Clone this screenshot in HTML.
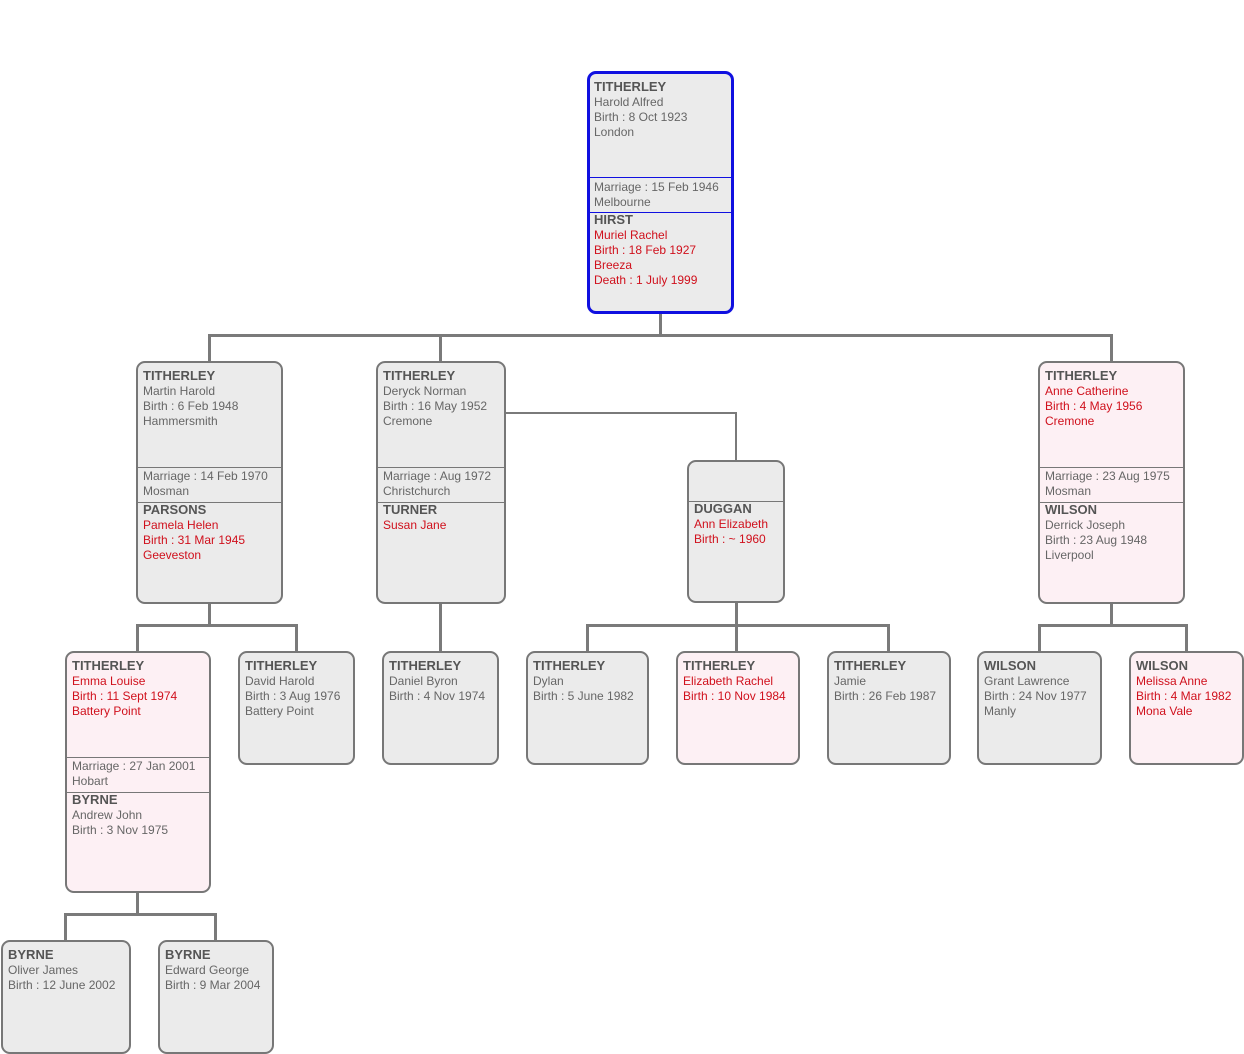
<!DOCTYPE html>
<html><head><style>
body{margin:0;width:1244px;height:1054px;background:#fff;position:relative;overflow:hidden;font-family:"Liberation Sans",Arial,sans-serif;}
.b{position:absolute;box-sizing:border-box;border:2px solid #777;border-radius:9px;background:#ebebeb;}
.p{background:#fdf0f4;}
.r{border:3px solid #1010e0;}
.s{padding:5px 0 0 5px;font-size:12px;line-height:15px;color:#666;white-space:nowrap;}
.s b{font-size:13px;color:#555;display:block;line-height:16px;}
.red{color:#d0101c;}
.d{position:absolute;left:0;right:0;border-top:1px solid #777;}
.r .d{border-top:1px solid #1010e0;}
.l{position:absolute;background:#7a7a7a;}
</style></head><body>
<div class="l" style="left:659px;top:313px;width:3px;height:23px"></div>
<div class="l" style="left:208px;top:334px;width:905px;height:3px"></div>
<div class="l" style="left:208px;top:334px;width:3px;height:28px"></div>
<div class="l" style="left:439px;top:334px;width:3px;height:28px"></div>
<div class="l" style="left:1110px;top:334px;width:3px;height:28px"></div>
<div class="l" style="left:505px;top:412px;width:232px;height:2px"></div>
<div class="l" style="left:735px;top:412px;width:2px;height:49px"></div>
<div class="l" style="left:208px;top:602px;width:3px;height:24px"></div>
<div class="l" style="left:136px;top:624px;width:162px;height:3px"></div>
<div class="l" style="left:136px;top:624px;width:3px;height:28px"></div>
<div class="l" style="left:295px;top:624px;width:3px;height:28px"></div>
<div class="l" style="left:439px;top:602px;width:3px;height:50px"></div>
<div class="l" style="left:735px;top:601px;width:3px;height:25px"></div>
<div class="l" style="left:586px;top:624px;width:304px;height:3px"></div>
<div class="l" style="left:586px;top:624px;width:3px;height:28px"></div>
<div class="l" style="left:735px;top:624px;width:3px;height:28px"></div>
<div class="l" style="left:887px;top:624px;width:3px;height:28px"></div>
<div class="l" style="left:1110px;top:602px;width:3px;height:24px"></div>
<div class="l" style="left:1038px;top:624px;width:150px;height:3px"></div>
<div class="l" style="left:1038px;top:624px;width:3px;height:28px"></div>
<div class="l" style="left:1185px;top:624px;width:3px;height:28px"></div>
<div class="l" style="left:136px;top:891px;width:3px;height:25px"></div>
<div class="l" style="left:64px;top:913px;width:153px;height:3px"></div>
<div class="l" style="left:64px;top:913px;width:3px;height:28px"></div>
<div class="l" style="left:214px;top:913px;width:3px;height:28px"></div>

<div class="b r" style="left:587px;top:71px;width:147px;height:243px">
<div class="s" style="padding-left:4px;padding-top:5px"><b>TITHERLEY</b>Harold Alfred<br>Birth : 8 Oct 1923<br>London</div>
<div class="d" style="top:103px"></div>
<div class="s" style="position:absolute;top:103px;padding-left:4px;padding-top:3px">Marriage : 15 Feb 1946<br>Melbourne</div>
<div class="d" style="top:138px"></div>
<div class="s" style="position:absolute;top:138px;padding-left:4px;padding-top:0px"><b>HIRST</b><span class="red">Muriel Rachel<br>Birth : 18 Feb 1927<br>Breeza<br>Death : 1 July 1999</span></div>
</div>

<div class="b" style="left:136px;top:361px;width:147px;height:243px">
<div class="s"><b>TITHERLEY</b>Martin Harold<br>Birth : 6 Feb 1948<br>Hammersmith</div>
<div class="d" style="top:104px"></div>
<div class="s" style="position:absolute;top:104px;padding-top:2px">Marriage : 14 Feb 1970<br>Mosman</div>
<div class="d" style="top:139px"></div>
<div class="s" style="position:absolute;top:139px;padding-top:0px"><b>PARSONS</b><span class="red">Pamela Helen<br>Birth : 31 Mar 1945<br>Geeveston</span></div>
</div>
<div class="b" style="left:376px;top:361px;width:130px;height:243px">
<div class="s"><b>TITHERLEY</b>Deryck Norman<br>Birth : 16 May 1952<br>Cremone</div>
<div class="d" style="top:104px"></div>
<div class="s" style="position:absolute;top:104px;padding-top:2px">Marriage : Aug 1972<br>Christchurch</div>
<div class="d" style="top:139px"></div>
<div class="s" style="position:absolute;top:139px;padding-top:0px"><b>TURNER</b><span class="red">Susan Jane</span></div>
</div>
<div class="b" style="left:687px;top:460px;width:98px;height:143px">
<div class="d" style="top:39px"></div>
<div class="s" style="position:absolute;top:39px;padding-top:0px"><b>DUGGAN</b><span class="red">Ann Elizabeth<br>Birth : ~ 1960</span></div>
</div>
<div class="b p" style="left:1038px;top:361px;width:147px;height:243px">
<div class="s"><b>TITHERLEY</b><span class="red">Anne Catherine<br>Birth : 4 May 1956<br>Cremone</span></div>
<div class="d" style="top:104px"></div>
<div class="s" style="position:absolute;top:104px;padding-top:2px">Marriage : 23 Aug 1975<br>Mosman</div>
<div class="d" style="top:139px"></div>
<div class="s" style="position:absolute;top:139px;padding-top:0px"><b>WILSON</b>Derrick Joseph<br>Birth : 23 Aug 1948<br>Liverpool</div>
</div>

<div class="b p" style="left:65px;top:651px;width:146px;height:242px">
<div class="s"><b>TITHERLEY</b><span class="red">Emma Louise<br>Birth : 11 Sept 1974<br>Battery Point</span></div>
<div class="d" style="top:104px"></div>
<div class="s" style="position:absolute;top:104px;padding-top:2px">Marriage : 27 Jan 2001<br>Hobart</div>
<div class="d" style="top:139px"></div>
<div class="s" style="position:absolute;top:139px;padding-top:0px"><b>BYRNE</b>Andrew John<br>Birth : 3 Nov 1975</div>
</div>
<div class="b" style="left:238px;top:651px;width:117px;height:114px"><div class="s"><b>TITHERLEY</b>David Harold<br>Birth : 3 Aug 1976<br>Battery Point</div></div>
<div class="b" style="left:382px;top:651px;width:117px;height:114px"><div class="s"><b>TITHERLEY</b>Daniel Byron<br>Birth : 4 Nov 1974</div></div>
<div class="b" style="left:526px;top:651px;width:123px;height:114px"><div class="s"><b>TITHERLEY</b>Dylan<br>Birth : 5 June 1982</div></div>
<div class="b p" style="left:676px;top:651px;width:124px;height:114px"><div class="s"><b>TITHERLEY</b><span class="red">Elizabeth Rachel<br>Birth : 10 Nov 1984</span></div></div>
<div class="b" style="left:827px;top:651px;width:124px;height:114px"><div class="s"><b>TITHERLEY</b>Jamie<br>Birth : 26 Feb 1987</div></div>
<div class="b" style="left:977px;top:651px;width:125px;height:114px"><div class="s"><b>WILSON</b>Grant Lawrence<br>Birth : 24 Nov 1977<br>Manly</div></div>
<div class="b p" style="left:1129px;top:651px;width:115px;height:114px"><div class="s"><b>WILSON</b><span class="red">Melissa Anne<br>Birth : 4 Mar 1982<br>Mona Vale</span></div></div>

<div class="b" style="left:1px;top:940px;width:130px;height:114px"><div class="s"><b>BYRNE</b>Oliver James<br>Birth : 12 June 2002</div></div>
<div class="b" style="left:158px;top:940px;width:116px;height:114px"><div class="s"><b>BYRNE</b>Edward George<br>Birth : 9 Mar 2004</div></div>
</body></html>
